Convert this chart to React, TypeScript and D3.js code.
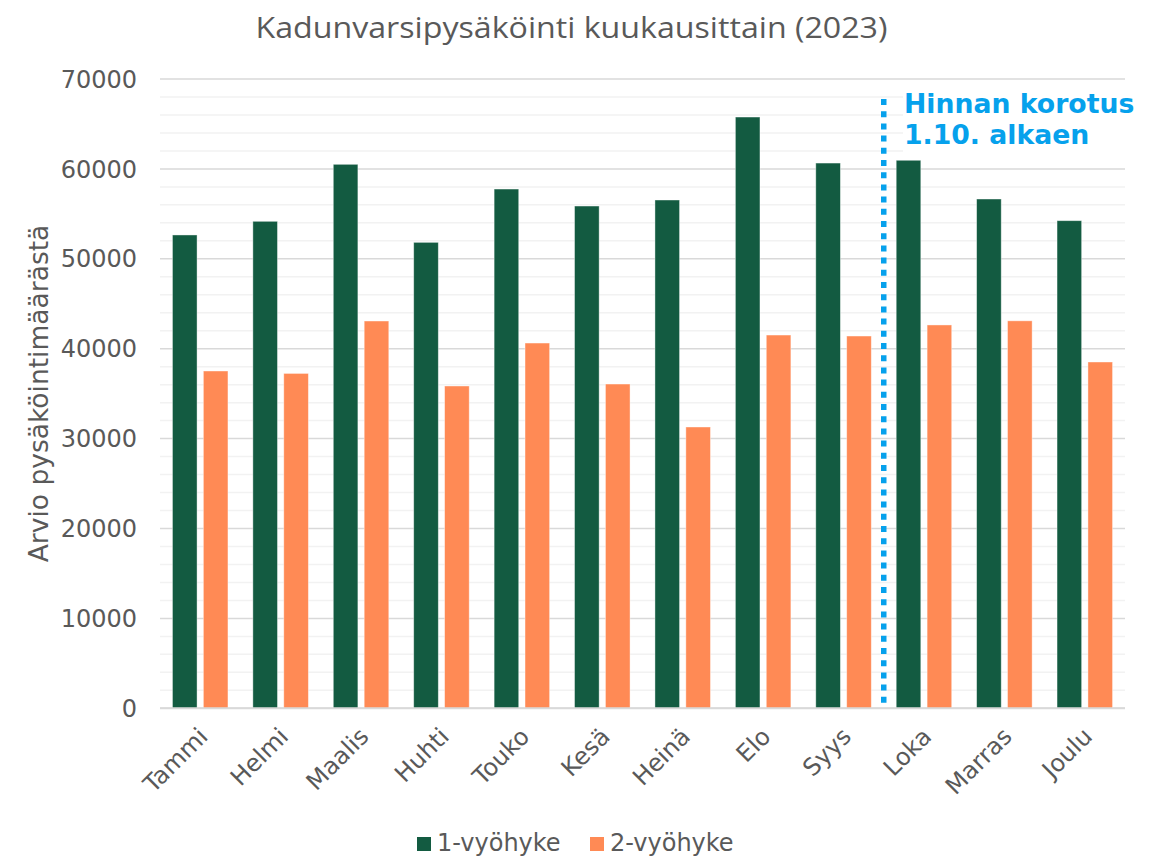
import * as d3 from 'd3';

// Kuukaudet ja arvot (luettu kuvasta)
const MONTHS = ['Tammi', 'Helmi', 'Maalis', 'Huhti', 'Touko', 'Kesä', 'Heinä', 'Elo', 'Syys', 'Loka', 'Marras', 'Joulu'];
const ZONE1 = [52650, 54170, 60510, 51830, 57760, 55870, 56540, 65770, 60650, 60960, 56650, 54240];
const ZONE2 = [37520, 37250, 43080, 35850, 40630, 36070, 31290, 41520, 41410, 42640, 43100, 38520];
const SERIES = ['1-vyöhyke', '2-vyöhyke'];
const Y_TICKS = [0, 10000, 20000, 30000, 40000, 50000, 60000, 70000];
const PRICE_CHANGE_AFTER = 'Syys';

const COLORS = ['#135B41', '#FF8A55'];
const NOTE_COLOR = '#06A1EC';
const TEXT = '#595959';
const FONT = '"DejaVu Sans", Verdana, sans-serif';

const W = 1158;
const H = 856;
const margin = { top: 79, right: 33, bottom: 148, left: 160 };

export default function App() {
  const x0 = margin.left;
  const x1 = W - margin.right;
  const yBase = 708.3;

  const x = d3.scaleBand<string>().domain(MONTHS).range([x0, x1]).paddingInner(0).paddingOuter(0);
  const xs = d3.scaleBand<string>().domain(SERIES).range([0, x.bandwidth()]).paddingInner(0.204).paddingOuter(0.403);
  const y = d3.scaleLinear().domain([0, 70000]).range([yBase, margin.top]);

  const minor = d3.range(0, 70001, 2000).filter(v => v % 10000 !== 0);
  const values = [ZONE1, ZONE2];

  const lineX = (x(PRICE_CHANGE_AFTER) ?? 0) + x.bandwidth();

  return (
    <svg width={W} height={H} style={{ display: 'block' }}>
      <style>{`body{margin:0}`}</style>
      <rect width={W} height={H} fill="#fff" />

      {/* Title */}
      <text x={571.5} y={38} textAnchor="middle" fontFamily='"Open Sans", sans-serif' fontSize={30}
        fill={TEXT} textLength={632} lengthAdjust="spacingAndGlyphs">
        Kadunvarsipysäköinti kuukausittain (2023)
      </text>

      {/* Grid */}
      {minor.map(v => (
        <line key={'m' + v} x1={x0} x2={x1} y1={y(v)} y2={y(v)} stroke="#F2F2F2" strokeWidth={1.5} />
      ))}
      {Y_TICKS.map(v => (
        <line key={'g' + v} x1={x0} x2={x1} y1={y(v)} y2={y(v)} stroke="#D9D9D9" strokeWidth={1.5} />
      ))}

      {/* White box behind the note */}
      <rect x={903} y={86} width={x1 - 903 + 2} height={72} fill="#fff" />

      {/* Y tick labels */}
      {Y_TICKS.map(v => (
        <text key={'t' + v} x={137} y={y(v)} dy="0.36em" textAnchor="end" fontFamily={FONT} fontSize={24} fill={TEXT}>
          {v}
        </text>
      ))}

      {/* Y title */}
      <text transform={`translate(48,393.5) rotate(-90)`} textAnchor="middle" fontFamily={FONT} fontSize={26.5} fill={TEXT}>
        Arvio pysäköintimäärästä
      </text>

      {/* Bars */}
      {MONTHS.map((m, i) => (
        <g key={m} transform={`translate(${x(m)},0)`}>
          {SERIES.map((s, j) => (
            <rect key={s} x={xs(s)} y={y(values[j][i])} width={xs.bandwidth()} height={yBase - y(values[j][i])}
              fill={COLORS[j]} stroke="rgba(255,255,255,0.5)" strokeWidth={0.8} />
          ))}
        </g>
      ))}

      {/* X labels */}
      {MONTHS.map(m => {
        const cx = (x(m) ?? 0) + x.bandwidth() / 2;
        return (
          <text key={'l' + m} transform={`translate(${cx + 9},${738}) rotate(-45)`} textAnchor="end"
            fontFamily={FONT} fontSize={24} fill={TEXT}>
            {m}
          </text>
        );
      })}

      {/* Price change marker */}
      <line x1={lineX} x2={lineX} y1={99} y2={yBase} stroke={NOTE_COLOR} strokeWidth={5.5} strokeDasharray="6,6.2" />
      <text x={904} y={113} fontFamily={FONT} fontWeight="bold" fontSize={26.7} fill={NOTE_COLOR}>Hinnan korotus</text>
      <text x={904} y={144} fontFamily={FONT} fontWeight="bold" fontSize={26.7} fill={NOTE_COLOR}>1.10. alkaen</text>

      {/* Axis baseline */}
      <line x1={x0} x2={x1} y1={yBase} y2={yBase} stroke="#D9D9D9" strokeWidth={2} />

      {/* Legend */}
      {SERIES.map((s, j) => {
        const lx = j === 0 ? 417 : 590;
        return (
          <g key={'lg' + s}>
            <rect x={lx} y={837} width={14} height={14} fill={COLORS[j]} />
            <text x={lx + 20} y={851} fontFamily={FONT} fontSize={24} fill={TEXT}>{s}</text>
          </g>
        );
      })}
    </svg>
  );
}
